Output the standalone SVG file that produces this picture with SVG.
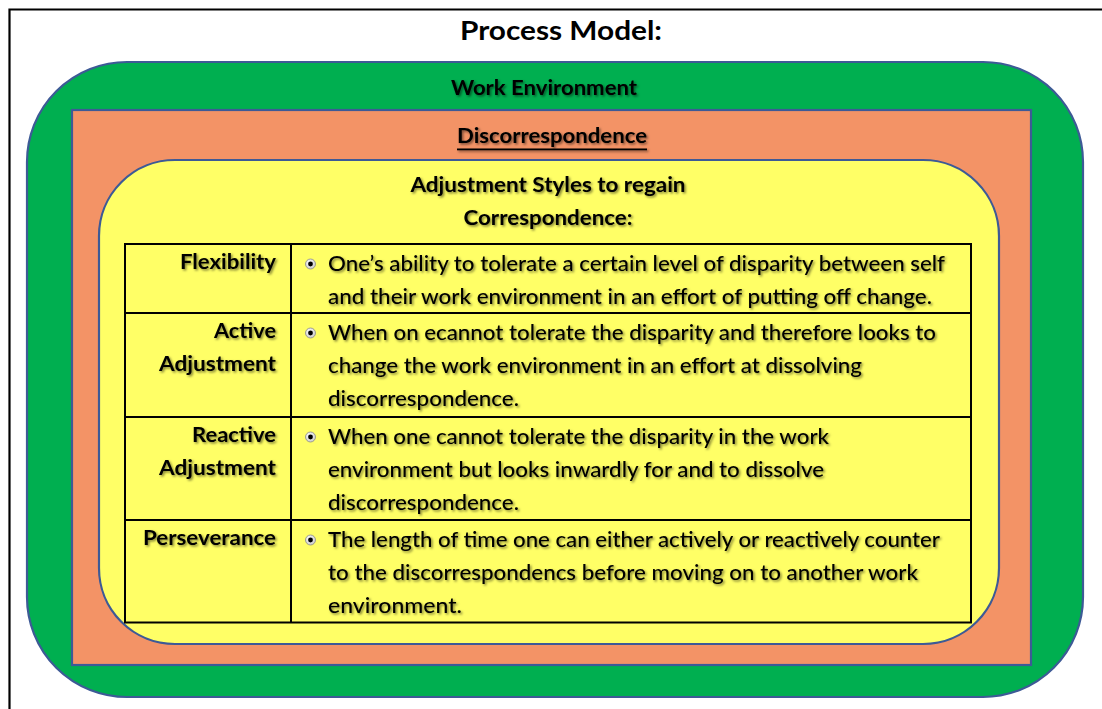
<svg xmlns="http://www.w3.org/2000/svg" width="1102" height="709" viewBox="0 0 1102 709">
  <defs>
    <filter id="txtShadow" x="-5%" y="-30%" width="110%" height="160%">
      <feDropShadow dx="1.5" dy="1.5" stdDeviation="1" flood-color="#000" flood-opacity="0.5"/>
    </filter>
    <radialGradient id="bulletGrad" cx="0.4" cy="0.35" r="0.7">
      <stop offset="0" stop-color="#ffffff"/>
      <stop offset="1" stop-color="#c8c8c8"/>
    </radialGradient>
    <symbol id="bullet" overflow="visible">
      <circle cx="0" cy="0" r="5" fill="url(#bulletGrad)" stroke="#8a8a8a" stroke-width="0.8"/>
      <circle cx="0" cy="0" r="2.4" fill="#000"/>
    </symbol>
  </defs>
  <style>
    .frame { fill: none; stroke: #000; stroke-width: 2.2; }
    .band { stroke: #3D5A96; stroke-width: 2.2; }
    .green { fill: #00AF50; }
    .orange { fill: #F39366; }
    .yellow { fill: #FFFF66; }
    .grid { fill: none; stroke: #000; stroke-width: 2; }
    text { font-family: Lato, "Open Sans", "Liberation Sans", sans-serif; fill: #000; }
    .title { font-size: 27px; font-weight: 700; }
    .head { font-size: 21px; font-weight: 700; filter: url(#txtShadow); }
    .label { font-size: 21px; font-weight: 700; text-anchor: end; filter: url(#txtShadow); }
    .body { font-size: 21px; font-weight: 500; filter: url(#txtShadow); }
  </style>

  <rect width="1102" height="709" fill="#fff"/>

  <!-- page frame -->
  <path class="frame" d="M9.5 709 V9.5 H1102"/>

  <text class="title" x="561" y="40" text-anchor="middle" textLength="202" lengthAdjust="spacingAndGlyphs">Process Model:</text>

  <!-- outer layer: work environment -->
  <g id="work-environment">
    <rect class="band green" x="27" y="62" width="1056" height="635" rx="100" ry="100"/>
    <text class="head" x="544" y="95" text-anchor="middle" textLength="186" lengthAdjust="spacingAndGlyphs">Work Environment</text>
  </g>

  <!-- middle layer: discorrespondence -->
  <g id="discorrespondence">
    <rect class="band orange" x="72" y="110" width="959" height="555"/>
    <g filter="url(#txtShadow)">
      <text x="552" y="143" font-size="21" font-weight="700" text-anchor="middle" textLength="190" lengthAdjust="spacingAndGlyphs">Discorrespondence</text>
      <rect x="457" y="148.5" width="190" height="1.8" fill="#000"/>
    </g>
  </g>

  <!-- inner layer: adjustment styles -->
  <g id="adjustment-styles">
    <rect class="band yellow" x="99" y="160" width="900" height="484" rx="76" ry="76"/>
    <text class="head" x="548" y="192" text-anchor="middle" textLength="275" lengthAdjust="spacingAndGlyphs">Adjustment Styles to regain</text>
    <text class="head" x="548" y="225" text-anchor="middle" textLength="169" lengthAdjust="spacingAndGlyphs">Correspondence:</text>
  </g>

  <!-- styles table -->
  <g id="styles-table">
    <rect class="grid" x="125" y="244" width="846" height="378.5"/>
    <line class="grid" x1="291" y1="244" x2="291" y2="622.5"/>
    <line class="grid" x1="125" y1="313" x2="971" y2="313"/>
    <line class="grid" x1="125" y1="417" x2="971" y2="417"/>
    <line class="grid" x1="125" y1="520" x2="971" y2="520"/>
  </g>

  <g id="row-flexibility">
    <text class="label" x="276" y="269" textLength="96" lengthAdjust="spacingAndGlyphs">Flexibility</text>
    <use href="#bullet" x="310.5" y="264"/>
    <text class="body" x="328" y="271" textLength="617" lengthAdjust="spacingAndGlyphs">One’s ability to tolerate a certain level of disparity between self</text>
    <text class="body" x="328" y="304" textLength="604" lengthAdjust="spacingAndGlyphs">and their work environment in an effort of putting off change.</text>
  </g>

  <g id="row-active">
    <text class="label" x="276" y="338" textLength="62" lengthAdjust="spacingAndGlyphs">Active</text>
    <text class="label" x="276" y="371" textLength="117" lengthAdjust="spacingAndGlyphs">Adjustment</text>
    <use href="#bullet" x="310.5" y="333"/>
    <text class="body" x="328" y="340" textLength="608" lengthAdjust="spacingAndGlyphs">When on ecannot tolerate the disparity and therefore looks to</text>
    <text class="body" x="328" y="373" textLength="534" lengthAdjust="spacingAndGlyphs">change the work environment in an effort at dissolving</text>
    <text class="body" x="328" y="406" textLength="191" lengthAdjust="spacingAndGlyphs">discorrespondence.</text>
  </g>

  <g id="row-reactive">
    <text class="label" x="276" y="442" textLength="84" lengthAdjust="spacingAndGlyphs">Reactive</text>
    <text class="label" x="276" y="475" textLength="117" lengthAdjust="spacingAndGlyphs">Adjustment</text>
    <use href="#bullet" x="310.5" y="437"/>
    <text class="body" x="328" y="444" textLength="501" lengthAdjust="spacingAndGlyphs">When one cannot tolerate the disparity in the work</text>
    <text class="body" x="328" y="477" textLength="496" lengthAdjust="spacingAndGlyphs">environment but looks inwardly for and to dissolve</text>
    <text class="body" x="328" y="510" textLength="191" lengthAdjust="spacingAndGlyphs">discorrespondence.</text>
  </g>

  <g id="row-perseverance">
    <text class="label" x="276" y="545" textLength="133" lengthAdjust="spacingAndGlyphs">Perseverance</text>
    <use href="#bullet" x="310.5" y="540"/>
    <text class="body" x="328" y="547" textLength="612" lengthAdjust="spacingAndGlyphs">The length of time one can either actively or reactively counter</text>
    <text class="body" x="328" y="580" textLength="590" lengthAdjust="spacingAndGlyphs">to the discorrespondencs before moving on to another work</text>
    <text class="body" x="328" y="613" textLength="134" lengthAdjust="spacingAndGlyphs">environment.</text>
  </g>
</svg>
